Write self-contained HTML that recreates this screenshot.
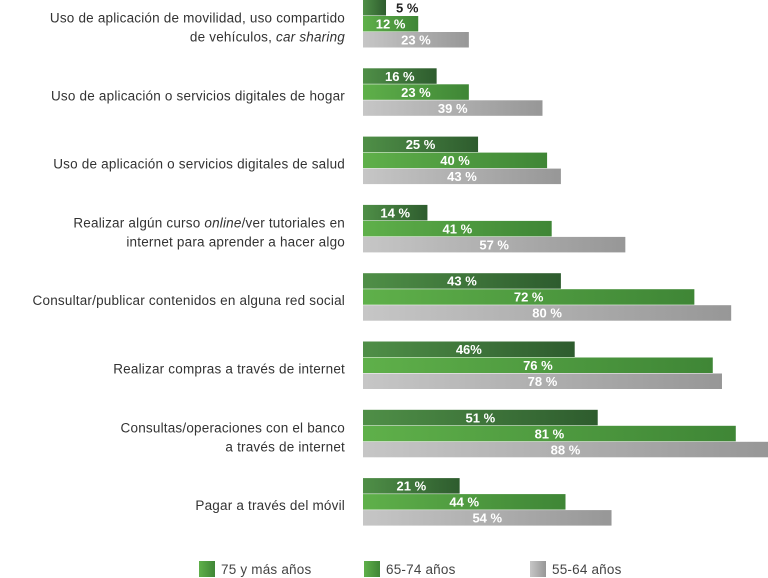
<!DOCTYPE html>
<html><head><meta charset="utf-8"><style>
body{margin:0;width:768px;height:578px;background:#fff;overflow:hidden;font-family:"Liberation Sans",sans-serif;}
svg{display:block}
.cat{font-size:13.5px;fill:#333;letter-spacing:0.2px;}
.val{font-size:13px;font-weight:bold;}
.leg{font-size:13.5px;fill:#444;letter-spacing:0.2px;}
</style></head><body>
<svg id="chart" width="768" height="578">
<defs>
<linearGradient id="g1" x1="0" x2="1"><stop offset="0" stop-color="#4f8f47"/><stop offset="1" stop-color="#2e5c2e"/></linearGradient>
<linearGradient id="g2" x1="0" x2="1"><stop offset="0" stop-color="#5fb04a"/><stop offset="1" stop-color="#3f8636"/></linearGradient>
<linearGradient id="g3" x1="0" x2="1"><stop offset="0" stop-color="#c6c6c6"/><stop offset="1" stop-color="#979797"/></linearGradient>
</defs>
</svg>
<script>
const categories=[
 ["Uso de aplicación de movilidad, uso compartido","de vehículos, <i>car sharing</i>"],
 ["Uso de aplicación o servicios digitales de hogar"],
 ["Uso de aplicación o servicios digitales de salud"],
 ["Realizar algún curso <i>online</i>/ver tutoriales en","internet para aprender a hacer algo"],
 ["Consultar/publicar contenidos en alguna red social"],
 ["Realizar compras a través de internet"],
 ["Consultas/operaciones con el banco","a través de internet"],
 ["Pagar a través del móvil"]];
const s75=[5,16,25,14,43,46,51,21];
const s65=[12,23,40,41,72,76,81,44];
const s55=[23,39,43,57,80,78,88,54];
const valLabels75=["5 %","16 %","25 %","14 %","43 %","46%","51 %","21 %"];
const seriesNames=["75 y más años","65-74 años","55-64 años"];
const svg=document.getElementById('chart');const NS="http://www.w3.org/2000/svg";
const x0=363,pxPer=(768-363)/88;
const x=v=>v*pxPer;
const groupY=i=>i*68.3;
function mk(t,a){const e=document.createElementNS(NS,t);for(const k in a)e.setAttribute(k,a[k]);svg.appendChild(e);return e;}
const series=[s75,s65,s55];
categories.forEach((cat,i)=>{
 const gy=groupY(i);
 series.forEach((s,j)=>{
  const w=x(s[i]),y=gy+j*16;
  const r=mk('rect',{x:x0,y:y,width:w,height:15.5,fill:`url(#g${j+1})`});
  
  
  const lab=j===0?valLabels75[i]:s[i]+" %";
  const inside=w>30;
  const t=mk('text',{x:inside?x0+w/2:x0+w+10,y:y+12.5,'text-anchor':inside?'middle':'start',class:'val'});
  t.style.fill=inside?'#fff':'#222';
  t.textContent=lab;
  
  
 });
 const n=cat.length,cy=gy+27;
 cat.forEach((line,k)=>{
  const t=mk('text',{x:345,y:cy+5+(k-(n-1)/2)*19,'text-anchor':'end',class:'cat'});
  t.innerHTML=line.replace(/<i>/g,'<tspan font-style="italic">').replace(/<\/i>/g,'</tspan>');
  
  
 });
});
const lx=[199,364,530];
seriesNames.forEach((nm,j)=>{
 const r=mk('rect',{x:lx[j],y:561,width:16,height:16,fill:`url(#g${j===2?3:2})`});
 
 
 const t=mk('text',{x:lx[j]+22,y:574,class:'leg'});t.textContent=nm;
 
 
});
</script>
</body></html>
